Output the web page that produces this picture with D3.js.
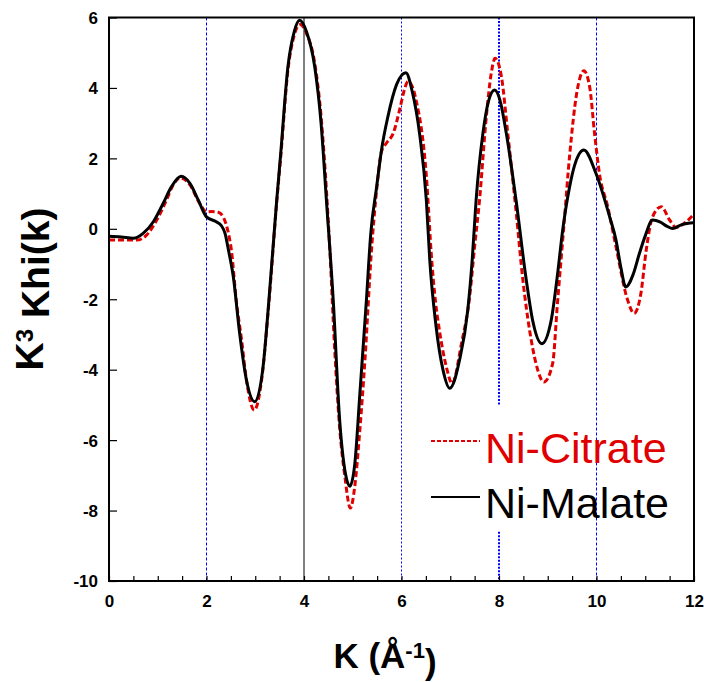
<!DOCTYPE html>
<html>
<head>
<meta charset="utf-8">
<script src="https://cdn.jsdelivr.net/npm/d3@7"></script>
<style>
  html, body { margin: 0; padding: 0; background: #fff; }
  svg { display: block; }
  text { font-family: "Liberation Sans", Arial, Helvetica, sans-serif; }
</style>
</head>
<body>
<svg id="chart" width="704" height="682"></svg>
<script>
// ---------------- data ----------------
const xTicks = [0, 2, 4, 6, 8, 10, 12];
const yTicks = [-10, -8, -6, -4, -2, 0, 2, 4, 6];
const seriesNames = ["Ni-Citrate", "Ni-Malate"];

const kMalate = [0.0, 0.25, 0.5, 0.7, 0.91, 1.11, 1.28, 1.48, 1.66, 1.83, 2.0, 2.2, 2.3, 2.38, 2.45, 2.55, 2.68, 2.82, 2.99, 3.16, 3.28, 3.44, 3.52, 3.67, 3.8, 3.91, 4.05, 4.22, 4.35, 4.46, 4.6, 4.73, 4.85, 4.94, 5.04, 5.15, 5.28, 5.37, 5.49, 5.59, 5.72, 5.9, 6.09, 6.22, 6.37, 6.51, 6.58, 6.71, 6.85, 6.99, 7.19, 7.36, 7.45, 7.53, 7.67, 7.78, 7.91, 8.03, 8.15, 8.35, 8.56, 8.69, 8.88, 9.07, 9.2, 9.31, 9.45, 9.55, 9.74, 9.99, 10.27, 10.4, 10.5, 10.6, 10.75, 10.88, 11.0, 11.15, 11.3, 11.45, 11.56, 11.75, 12.0];
const malate = [-0.21, -0.23, -0.27, -0.13, 0.2, 0.72, 1.19, 1.49, 1.29, 0.82, 0.34, 0.2, 0.1, -0.13, -0.6, -1.36, -2.97, -4.3, -4.91, -3.92, -2.03, 0.81, 2.1, 4.6, 5.6, 5.92, 5.6, 4.6, 3.0, 0.81, -2.03, -5.4, -6.95, -7.31, -6.7, -4.6, -2.03, -0.13, 1.19, 2.24, 3.18, 4.1, 4.43, 3.9, 2.71, 0.81, -0.89, -2.78, -4.0, -4.53, -3.73, -2.3, -0.89, 0.81, 2.71, 3.6, 3.94, 3.6, 2.71, 0.81, -1.46, -2.6, -3.26, -2.6, -1.3, 0.0, 1.2, 1.8, 2.24, 1.57, 0.34, -0.32, -1.1, -1.65, -1.3, -0.7, -0.2, 0.25, 0.2, 0.07, 0.01, 0.12, 0.17];

const kCitrate = [0.0, 0.3, 0.57, 0.77, 0.98, 1.18, 1.3, 1.46, 1.66, 1.86, 2.0, 2.1, 2.24, 2.34, 2.45, 2.51, 2.61, 2.72, 2.82, 2.98, 3.13, 3.28, 3.44, 3.52, 3.67, 3.8, 3.92, 4.05, 4.22, 4.35, 4.46, 4.53, 4.63, 4.73, 4.84, 4.95, 5.04, 5.14, 5.25, 5.38, 5.49, 5.59, 5.7, 5.83, 5.96, 6.06, 6.13, 6.2, 6.3, 6.51, 6.62, 6.7, 6.78, 6.92, 7.04, 7.23, 7.4, 7.5, 7.6, 7.74, 7.84, 7.92, 8.05, 8.18, 8.35, 8.49, 8.63, 8.76, 8.92, 9.1, 9.2, 9.33, 9.45, 9.6, 9.74, 9.86, 9.96, 10.06, 10.23, 10.4, 10.64, 10.77, 10.91, 11.02, 11.15, 11.33, 11.5, 11.63, 11.84, 12.0];
const citrate = [-0.32, -0.32, -0.32, -0.18, 0.25, 0.82, 1.2, 1.45, 1.25, 0.72, 0.48, 0.49, 0.47, 0.34, -0.13, -0.6, -2.03, -3.16, -4.3, -5.15, -4.3, -2.1, 0.75, 2.0, 4.5, 5.5, 5.8, 5.55, 4.7, 3.2, 1.1, -0.6, -3.44, -5.63, -7.05, -7.93, -7.33, -5.81, -3.73, -0.7, 1.1, 2.19, 2.45, 2.71, 3.37, 3.95, 4.18, 4.1, 3.65, 1.5, -0.89, -2.1, -2.9, -3.92, -4.39, -3.26, -1.9, -0.5, 0.81, 3.18, 4.41, 4.84, 4.32, 2.71, 0.5, -1.46, -2.9, -3.83, -4.35, -3.83, -2.1, 0.07, 2.1, 3.9, 4.49, 4.03, 2.71, 1.57, 0.63, -0.51, -2.03, -2.4, -1.84, -0.6, 0.34, 0.63, 0.25, 0.04, 0.2, 0.42];

// reference lines
const refLines = [2, 4, 6, 8, 10];

// ---------------- drawing ----------------
const svg = d3.select("#chart");
const x = d3.scaleLinear().domain([0, 12]).range([109, 694]);
const y = d3.scaleLinear().domain([-10, 6]).range([581, 17.5]);

const RED = "#e10000";
const fmt = d => String(d); // plain hyphen-minus like the reference

// vertical reference lines
const refStyle = {
  2: {color: "#0000ff", w: 1, dash: "3,2"},
  4: {color: "#000", w: 1, dash: null},
  6: {color: "#0000ff", w: 1, dash: "2,2"},
  8: {color: "#0000ff", w: 2, dash: "2,1.5"},
  10: {color: "#0000ff", w: 1, dash: "3,2"}
};
refLines.forEach(k => {
  const s = refStyle[k];
  const segs = k === 8 ? [[y(6), y(-5.0)], [y(-8.6), y(-10)]] : [[y(6), y(-10)]];
  segs.forEach(([y1, y2]) => {
    svg.append("line")
      .attr("x1", x(k)).attr("x2", x(k))
      .attr("y1", y1).attr("y2", y2)
      .attr("stroke", s.color).attr("stroke-width", s.w)
      .attr("stroke-dasharray", s.dash);
  });
});

// curves
const line = d3.line()
  .x(d => x(d[0])).y(d => y(d[1]))
  .curve(d3.curveMonotoneX);

const citData = kCitrate.map((k, i) => [k, citrate[i]]);
const malData = kMalate.map((k, i) => [k, malate[i]]);

svg.append("path").datum(citData)
  .attr("d", line).attr("fill", "none")
  .attr("stroke", RED).attr("stroke-width", 3)
  .attr("stroke-dasharray", "6,3");

svg.append("path").datum(malData)
  .attr("d", line).attr("fill", "none")
  .attr("stroke", "#000").attr("stroke-width", 3);

// frame
svg.append("rect")
  .attr("x", x(0)).attr("y", y(6))
  .attr("width", x(12) - x(0)).attr("height", y(-10) - y(6))
  .attr("fill", "none").attr("stroke", "#000").attr("stroke-width", 2);

// axes
const xMinor = d3.range(0, 12.01, 0.5);
const xAxis = d3.axisBottom(x).tickValues(xMinor).tickSize(-5)
  .tickFormat(d => xTicks.includes(d) ? fmt(d) : "");
const gx = svg.append("g").attr("transform", `translate(0,${y(-10)})`).call(xAxis);
gx.select(".domain").remove();
gx.selectAll(".tick line").attr("stroke", "#000").attr("stroke-width", 1.2);
gx.selectAll(".tick text")
  .attr("y", 26).attr("dy", 0)
  .attr("font-size", 17).attr("font-weight", "bold")
  .attr("font-family", "Liberation Sans, Arial, sans-serif")
  .attr("fill", "#000");

const yAxis = d3.axisLeft(y).tickValues(yTicks).tickSize(-8).tickFormat(fmt);
const gy = svg.append("g").attr("transform", `translate(${x(0)},0)`).call(yAxis);
gy.select(".domain").remove();
gy.selectAll(".tick line").attr("stroke", "#000").attr("stroke-width", 1.2);
gy.selectAll(".tick text")
  .attr("x", -11).attr("dy", "0.35em")
  .attr("font-size", 17).attr("font-weight", "bold")
  .attr("font-family", "Liberation Sans, Arial, sans-serif")
  .attr("fill", "#000");

// axis titles
const yt = svg.append("text")
  .attr("transform", `translate(43,289) rotate(-90)`)
  .attr("text-anchor", "middle")
  .attr("font-size", 39).attr("font-weight", "bold").attr("fill", "#000");
yt.append("tspan").text("K");
yt.append("tspan").attr("dy", "-0.42em").attr("font-size", 24).text("3");
yt.append("tspan").attr("dy", "0.42em").text(" Khi(k)");

const xt = svg.append("text")
  .attr("x", 385).attr("y", 668)
  .attr("text-anchor", "middle")
  .attr("font-size", 35).attr("font-weight", "bold").attr("fill", "#000");
xt.append("tspan").text("K (Å");
xt.append("tspan").attr("dy", "-0.45em").attr("font-size", 22).text("-1");
xt.append("tspan").attr("dy", "0.45em").text(")");

// legend
const legend = [
  {name: seriesNames[0], color: RED, dash: "4,2", w: 2, ly: 441, ty: 463},
  {name: seriesNames[1], color: "#000", dash: null, w: 2, ly: 497, ty: 518}
];
legend.forEach(l => {
  svg.append("line")
    .attr("x1", 431).attr("x2", 480)
    .attr("y1", l.ly).attr("y2", l.ly)
    .attr("stroke", l.color).attr("stroke-width", l.w)
    .attr("stroke-dasharray", l.dash);
  svg.append("text")
    .attr("x", 485).attr("y", l.ty)
    .attr("font-size", 43).attr("fill", l.color)
    .text(l.name);
});
</script>
</body>
</html>
